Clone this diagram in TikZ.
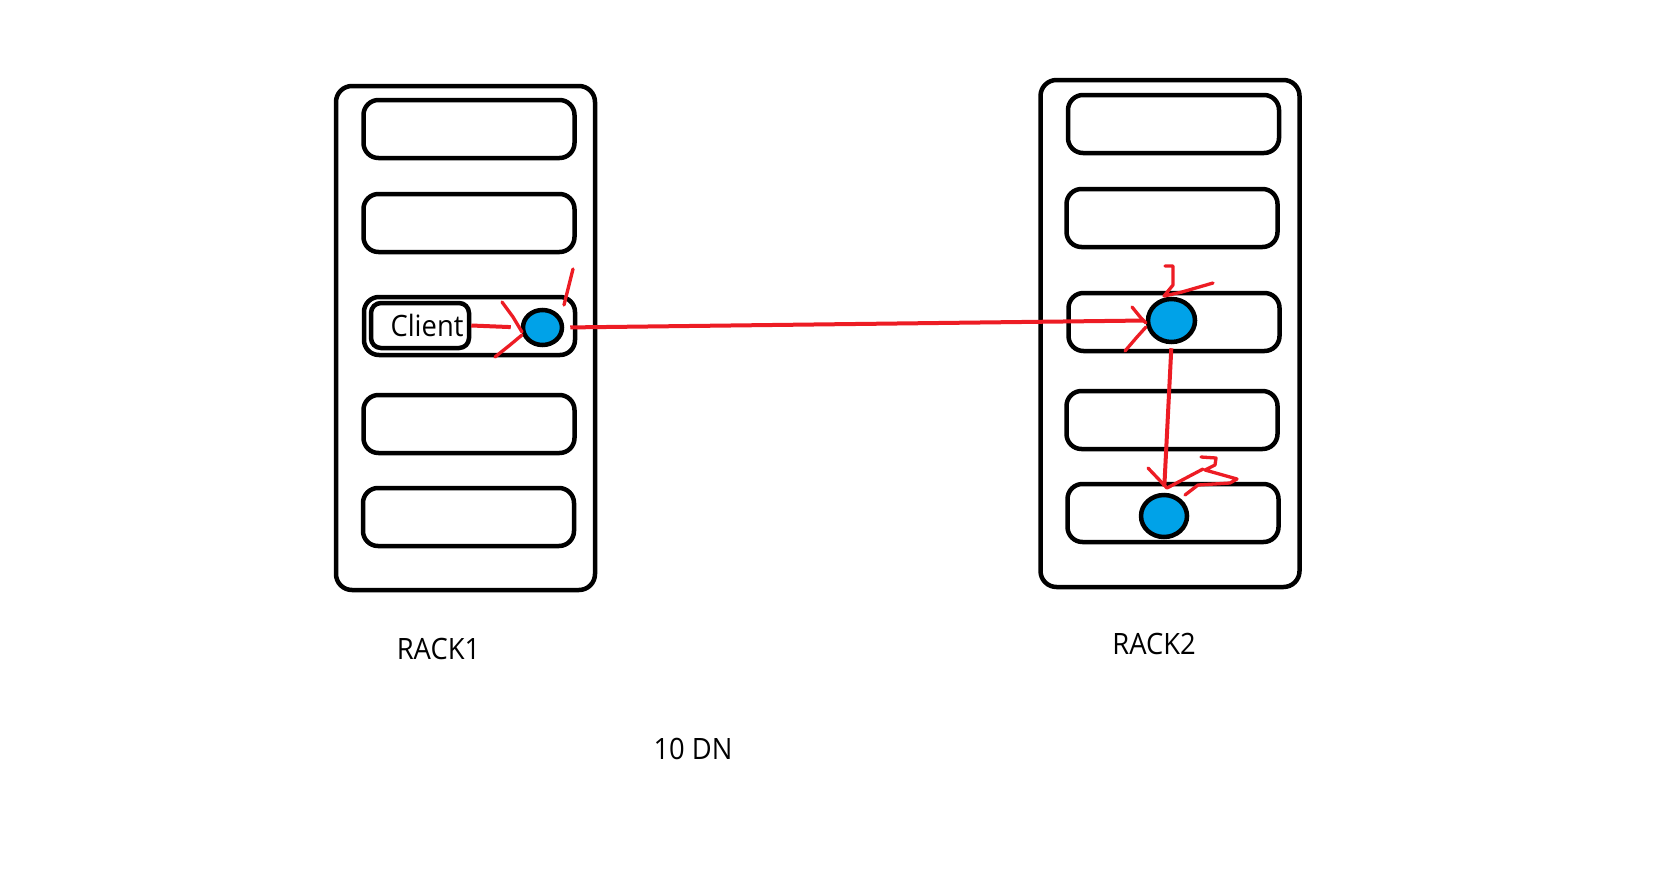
\documentclass[tikz,border=0pt]{standalone}
\usepackage{fontspec}
\setmainfont{Open Sans}[FakeStretch=0.93]
\usetikzlibrary{shapes.geometric}
\definecolor{paintred}{RGB}{237,28,36}
\definecolor{paintblue}{RGB}{0,162,232}
\begin{document}
\begin{tikzpicture}[x=1pt,y=-1pt,
  rack/.style={draw=black, line width=4.5pt, rounded corners=16pt,
    minimum width=259pt, minimum height=504pt, inner sep=0pt},
  slot/.style={draw=black, line width=4.5pt, rounded corners=15pt,
    minimum width=211pt, minimum height=58pt, inner sep=0pt},
  clientbox/.style={draw=black, line width=4.5pt, rounded corners=10pt,
    minimum width=98pt, minimum height=45pt, inner sep=0pt},
  datanode/.style={ellipse, draw=black, line width=4.5pt, fill=paintblue, inner sep=0pt},
  label/.style={font=\fontsize{29.4}{35}\selectfont, anchor=base, inner sep=0pt},
  redline/.style={draw=paintred, line width=4pt},
  scrib/.style={draw=paintred, line width=3.3pt, line cap=round, line join=round}
]
\useasboundingbox[fill=white] (0,0) rectangle (1664,881);

% first rack with its five slots
\node[rack] (rackA) at (465.5,338) {};
\node[slot] (a1) at (469,129) {};
\node[slot] (a2) at (469,223) {};
\node[slot] (a3) at (469.5,326) {};
\node[slot] (a4) at (469,424) {};
\node[slot] (a5) at (468.5,517) {};

% second rack with its five slots
\node[rack, minimum height=507pt] (rackB) at (1170,333.5) {};
\node[slot] (b1) at (1173.5,124) {};
\node[slot] (b2) at (1172,218) {};
\node[slot] (b3) at (1174,322) {};
\node[slot] (b4) at (1172,420) {};
\node[slot] (b5) at (1173,513) {};

% client and the data nodes
\node[clientbox] (cl) at (420,325.5) {};
\node[label] (cltext) at (427,336) {Client};
\node[datanode, minimum width=39pt, minimum height=35pt] (c1) at (542.5,327.5) {};
\node[datanode, minimum width=47pt, minimum height=43pt] (cA) at (1171.5,320.5) {};
\node[datanode, minimum width=46pt, minimum height=42pt] (cB) at (1164,516) {};

% labels
\node[label] (rackAtext) at (438.5,659) {RACK1};
\node[label] (rackBtext) at (1154,654) {RACK2};
\node[label] (dntext) at (693,759) {10 DN};

% pipeline connectors
\draw[redline, shorten >=10pt] (cl.east) -- (c1.west);
\draw[redline, shorten <=6pt, shorten >=2pt] (c1.east) -- (cA.west);
\draw[redline, shorten <=4pt, shorten >=6pt] (cA.south) -- (cB.north);

% hand-drawn arrow heads and marks
\coordinate (tip1) at (522,333);
\coordinate (tipA) at (1146,324);
\coordinate (tipB) at (1167,488);
\coordinate (mark1) at (573,269);
\coordinate (markA) at (1165,266);
\coordinate (markB) at (1201,457);

\draw[scrib] (tip1) ++(-20,-31) -- ++(11,15) -- ++(9,15);
\draw[scrib] (tip1) ++(-27,24) -- ++(15,-12) -- ++(12,-10);
\draw[scrib] (mark1) -- ++(-9,36);

\draw[scrib] (tipA) ++(-14,-17) -- ++(9,11) -- ++(5,5);
\draw[scrib] (tipA) ++(-21,27) -- ++(12,-14) -- ++(9,-10);
\draw[scrib] (markA) -- ++(8,0) -- ++(0,19) -- ++(-9,11) -- ++(18,-4) -- ++(31,-9);

\draw[scrib] (tipB) ++(-19,-20) -- (tipB) -- ++(36,-19);
\draw[scrib] (markB) -- ++(15,1) -- ++(-1,7) -- ++(-10,5) -- ++(32,9)
  -- ++(-7,4) -- ++(-32,2) -- ++(-13,10);
\end{tikzpicture}
\end{document}
